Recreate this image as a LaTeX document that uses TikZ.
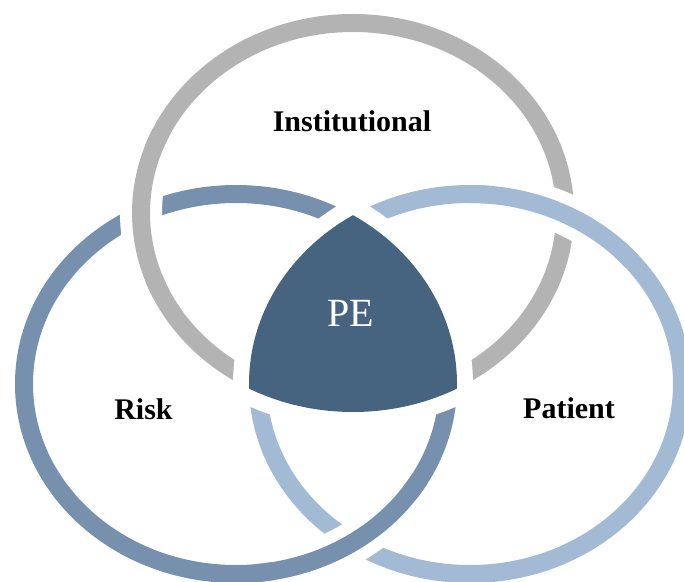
\documentclass[tikz,border=0pt]{standalone}
\usepackage{fontspec}
\setmainfont{Liberation Serif}
\definecolor{ringgray}{HTML}{B3B3B3}
\definecolor{ringrisk}{HTML}{7690AD}
\definecolor{ringpatient}{HTML}{A3BAD4}
\definecolor{pefill}{HTML}{46647F}
\tikzset{
  ring/.style={line width=18pt},
  halo/.style={draw=white, line width=42pt},
  ringpath/.style={x radius=212pt, y radius=190pt},
  label/.style={anchor=base, font=\fontsize{30}{36}\selectfont\bfseries, text=black, inner sep=0pt},
}
\begin{document}
\begin{tikzpicture}[x=1pt,y=1pt]
  \useasboundingbox (0,0) rectangle (684,581);
  \clip (0,0) rectangle (684,581);
  \fill[white] (0,0) rectangle (684,581);

  % centres of the three rings
  \coordinate (G) at (353,368);
  \coordinate (R) at (236,197);
  \coordinate (P) at (470,197);

  % full rings
  \draw[ring, ringgray]    (G) ellipse[ringpath];
  \draw[ring, ringrisk]    (R) ellipse[ringpath];
  \draw[ring, ringpatient] (P) ellipse[ringpath];

  % interlacing: Institutional over Risk (upper left)
  \draw[halo] (G) ++(160:212pt and 190pt) arc[start angle=160, end angle=200, ringpath];
  \draw[ring, ringgray] (G) ++(155:212pt and 190pt) arc[start angle=155, end angle=205, ringpath];
  % Patient over Institutional (upper right)
  \draw[halo] (P) ++(45:212pt and 190pt) arc[start angle=45, end angle=85, ringpath];
  \draw[ring, ringpatient] (P) ++(40:212pt and 190pt) arc[start angle=40, end angle=90, ringpath];
  % Risk over Patient (bottom)
  \draw[halo] (R) ++(-80:212pt and 190pt) arc[start angle=-80, end angle=-35, ringpath];
  \draw[ring, ringrisk] (R) ++(-85:212pt and 190pt) arc[start angle=-85, end angle=-30, ringpath];

  % white margin around the common region
  \begin{scope}
    \clip (G) ellipse[x radius=237pt, y radius=215pt];
    \clip (R) ellipse[x radius=237pt, y radius=215pt];
    \fill[white] (P) ellipse[x radius=237pt, y radius=215pt];
  \end{scope}
  % common region of the three rings
  \begin{scope}
    \clip (G) ellipse[x radius=221pt, y radius=199pt];
    \clip (R) ellipse[x radius=221pt, y radius=199pt];
    \fill[pefill] (P) ellipse[x radius=221pt, y radius=199pt];
  \end{scope}

  % labels
  \node[label] (lblInst)    at (352,449)   {Institutional};
  \node[label] (lblRisk)    at (143.5,162) {Risk};
  \node[label] (lblPatient) at (569,163)   {Patient};
  \node[anchor=base, inner sep=0pt, text=white, font=\fontsize{40}{48}\selectfont] (lblPE) at (350.5,254) {PE};
\end{tikzpicture}
\end{document}
